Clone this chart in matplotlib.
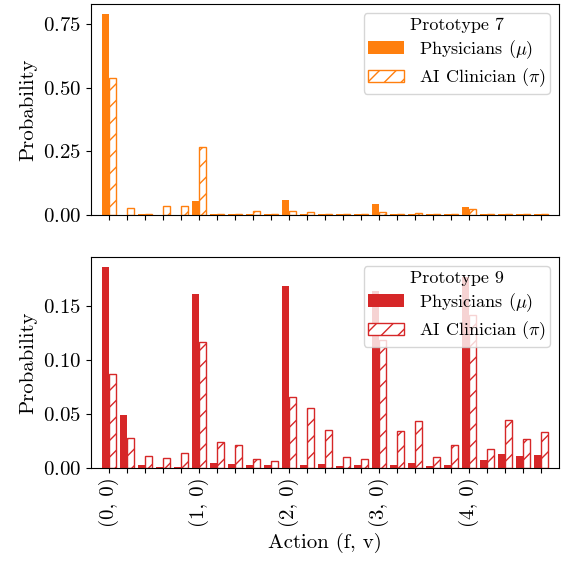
import numpy as np
import matplotlib
matplotlib.use("Agg")
import matplotlib.pyplot as plt

plt.rcParams['font.family'] = 'serif'
plt.rcParams['font.serif'] = ['cmr10']
plt.rcParams['mathtext.fontset'] = 'cm'
plt.rcParams['axes.formatter.use_mathtext'] = True
plt.rcParams['axes.unicode_minus'] = False

# ==== data: 25 actions (f, v), f, v in 0..4 ====
actions = [(f, v) for f in range(5) for v in range(5)]
tick_labels = [f"({f}, {v})" if v == 0 else "" for f, v in actions]

# prototype 7
phys_7 = [0.791, 0.001, 0.003, 0.001, 0.001,
          0.055, 0.002, 0.002, 0.002, 0.005,
          0.059, 0.002, 0.002, 0.002, 0.002,
          0.043, 0.002, 0.003, 0.002, 0.002,
          0.031, 0.003, 0.003, 0.003, 0.003]
ai_7 = [0.540, 0.026, 0.003, 0.035, 0.035,
        0.269, 0.002, 0.002, 0.015, 0.002,
        0.015, 0.012, 0.002, 0.002, 0.002,
        0.012, 0.002, 0.008, 0.004, 0.004,
        0.022, 0.004, 0.004, 0.004, 0.004]

# prototype 9
phys_9 = [0.1864, 0.0493, 0.003, 0.001, 0.001,
          0.1614, 0.0049, 0.004, 0.003, 0.003,
          0.1688, 0.003, 0.004, 0.002, 0.003,
          0.164, 0.003, 0.005, 0.002, 0.003,
          0.1768, 0.0077, 0.0133, 0.0114, 0.0123]
ai_9 = [0.087, 0.0275, 0.0114, 0.0093, 0.0142,
        0.1173, 0.0243, 0.021, 0.0083, 0.0065,
        0.0663, 0.0561, 0.0348, 0.0102, 0.0083,
        0.119, 0.0339, 0.0438, 0.0102, 0.021,
        0.142, 0.0173, 0.0444, 0.0268, 0.0333]

panels = [("Prototype 7", phys_7, ai_7, "#ff7f0e"),
          ("Prototype 9", phys_9, ai_9, "#d62728")]

# ==== plot ====
fig, axes = plt.subplots(2, 1, figsize=(5.61, 5.61), dpi=100, sharex=True)
fig.subplots_adjust(left=0.162, right=0.9964, top=0.9929, bottom=0.1658, hspace=0.199)

x = np.arange(len(actions))
w = 0.4
for ax, (title, phys, ai, col) in zip(axes, panels):
    ax.bar(x - w / 2, phys, width=w, color=col, label=r"Physicians ($\mu$)")
    ax.bar(x + w / 2, ai, width=w, facecolor="white", edgecolor=col,
           hatch="//", linewidth=1.0, label=r"AI Clinician ($\pi$)")
    ax.set_xlim(-1, 25)
    ax.set_ylabel("Probability", fontsize=15)
    ax.tick_params(labelsize=15, length=3.5)
    ax.legend(title=title, loc="upper right", fontsize=13, title_fontsize=13,
              labelspacing=0.3, borderpad=0.25, handlelength=2.0)

axes[0].set_yticks([0, 0.25, 0.5, 0.75])
axes[1].set_yticks([0, 0.05, 0.1, 0.15])
axes[1].set_xticks(x)
axes[1].set_xticklabels(tick_labels, rotation=90)
axes[1].set_xlabel("Action (f, v)", fontsize=15)

fig.savefig("out.png", dpi=100)
